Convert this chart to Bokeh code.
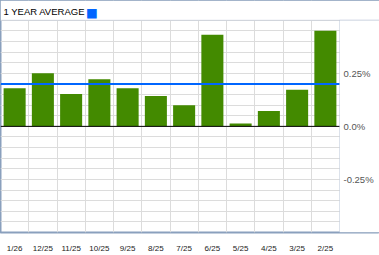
from bokeh.plotting import figure
from bokeh.models import FixedTicker, Range1d, Span, BoxAnnotation, Label
from bokeh.embed import file_html
from bokeh.resources import INLINE

categories = ["1/26", "12/25", "11/25", "10/25", "9/25", "8/25", "7/25",
              "6/25", "5/25", "4/25", "3/25", "2/25"]
values = [0.18, 0.25, 0.152, 0.222, 0.18, 0.143, 0.10, 0.432, 0.013, 0.073, 0.172, 0.45]
avg_1y = 0.20
title_text = "1 YEAR AVERAGE"
y_tick_values = [-0.25, 0.0, 0.25]
y_tick_labels = ["-0.25%", "0.0%", "0.25%"]

BORDER = "#8aa0bd"
GRID = "#dcdcdc"
GREEN = "#438a00"
BLUE = "#0066ff"

# layout (pixels)
W, H = 379, 255
PLOT_W = 339          # bar area width
HEADER_H = 20         # header strip height
PLOT_H = 215          # bar area height
BOTTOM = H - HEADER_H - PLOT_H

n = len(categories)
xs = list(range(n))
y_lo, y_hi = -0.5, 0.5
x_start = -0.5
x_end = x_start + n * W / PLOT_W
y_top = y_hi + (y_hi - y_lo) * HEADER_H / PLOT_H

p = figure(width=W, height=H, output_backend="svg", toolbar_location=None,
           x_range=Range1d(x_start, x_end), y_range=Range1d(y_lo, y_top),
           min_border_left=0, min_border_right=0, min_border_top=0,
           min_border_bottom=BOTTOM, y_axis_location=None, title=None)
p.background_fill_color = "white"
p.border_fill_color = "white"
p.outline_line_color = BORDER
p.outline_line_width = 2

p.vbar(x=xs, top=values, bottom=0, width=0.78, fill_color=GREEN, line_color=None)

p.add_layout(Span(location=0, dimension="width", line_color="black", line_width=1))
p.add_layout(Span(location=avg_1y, dimension="width", line_color=BLUE, line_width=2))

# grids
p.xgrid.ticker = FixedTicker(ticks=[i + 0.5 for i in range(n - 1)])
p.ygrid.ticker = FixedTicker(ticks=[round(y_lo + 0.05 * k, 2) for k in range(21)])
p.xgrid.grid_line_color = GRID
p.ygrid.grid_line_color = GRID

# x axis
xa = p.xaxis[0]
xa.ticker = FixedTicker(ticks=xs)
xa.major_label_overrides = {i: c for i, c in zip(xs, categories)}
xa.axis_line_color = None
xa.major_tick_line_color = None
xa.minor_tick_line_color = None
xa.major_label_standoff = 5
xa.major_label_text_font = "Liberation Sans"
xa.major_label_text_font_size = "8px"
xa.major_label_text_color = "#222222"

# header strip and right label panel (mask grid / lines, draw borders)
p.add_layout(BoxAnnotation(bottom=y_hi, fill_color="white", fill_alpha=1,
                           line_color=BORDER, line_width=1, level="overlay"))
p.add_layout(BoxAnnotation(left=n - 0.5, bottom=y_lo, top=y_hi, fill_color="white",
                           fill_alpha=1, line_color=BORDER, line_width=1, level="overlay"))

# header text + legend swatch
p.add_layout(Label(x=x_start, y=y_top, x_offset=3, y_offset=-11, text=title_text,
                   text_baseline="middle", text_align="left", text_font="Liberation Sans",
                   text_font_size="9.5px", text_color="black", level="overlay"))
p.add_layout(Label(x=x_start, y=y_top, x_offset=85.5, y_offset=-11.5, text="\u25a0",
                   text_baseline="middle", text_align="left", text_font="DejaVu Sans",
                   text_font_size="12.5px", text_color=BLUE, level="overlay"))

# right-hand value labels
for v, t in zip(y_tick_values, y_tick_labels):
    p.add_layout(Label(x=n - 0.5, y=v, x_offset=4, text=t, text_baseline="middle",
                       text_align="left", text_font="Liberation Sans",
                       text_font_size="9.5px", text_color="#555555", level="overlay"))

open("out.html", "w").write(file_html(p, INLINE))
